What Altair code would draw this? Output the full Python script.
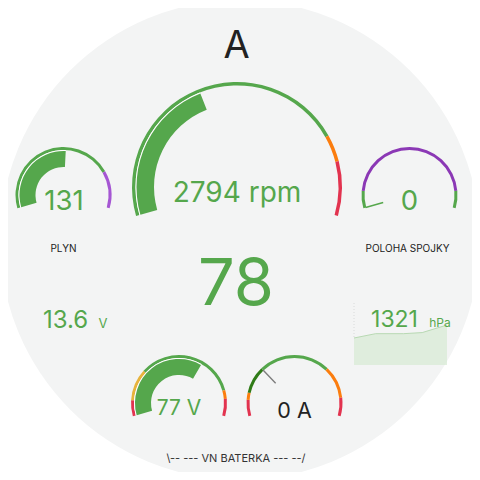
import math
import altair as alt
import pandas as pd

# ------------------------------------------------------------------ data
GREEN = "#55a74c"
ORANGE = "#fb7d0e"
RED = "#e2334f"
PURPLE = "#8b38b5"
LILAC = "#a556d3"
YELLOW = "#e6b33c"
DKGREEN = "#2f7b17"
DARK = "#222222"

GAUGE_NAMES = ["RPM", "PLYN", "POLOHA SPOJKY", "VN_V", "VN_A"]
GAUGE_MIN = [0, 0, 0, 0, -50]
GAUGE_MAX = [7000, 255, 100, 120, 120]
GAUGE_VALUES = [2794, 131, 0, 77, 0]
GAUGE_BAR_COLORS = [GREEN, GREEN, GREEN, GREEN, "#7d7d7d"]

SEGMENT_FROM = {
    "RPM": [0, 5500, 6000],
    "PLYN": [0, 200],
    "POLOHA SPOJKY": [0, 10, 90],
    "VN_V": [0, 11, 33, 102, 108],
    "VN_A": [-50, -34, -27, 0, 70, 102],
}
SEGMENT_COLORS = {
    "RPM": [GREEN, ORANGE, RED],
    "PLYN": [GREEN, LILAC],
    "POLOHA SPOJKY": [GREEN, PURPLE, GREEN],
    "VN_V": [RED, YELLOW, GREEN, ORANGE, RED],
    "VN_A": [RED, ORANGE, DKGREEN, GREEN, ORANGE, RED],
}

PRESSURE_TIMES = [0, 14, 32, 44, 60]
PRESSURE_VALUES = [1309, 1313, 1313, 1314, 1321]

TEXT_LABELS = ["A", "2794 rpm", "78", "131", "PLYN", "0", "POLOHA SPOJKY",
               "13.6", "V", "1321", "hPa", "77 V", "0 A",
               "\\-- --- VN BATERKA --- --/"]

# ---------------------------------------------------------------- layout
SPAN = 106.0  # degrees each side of 12 o'clock
BIG = dict(ring=(101.5, 105.0), gap=(100.5, 101.5), bar=(83.0, 100.5))
SMALL = dict(ring=(45.0, 48.0), gap=(44.0, 45.0), bar=(28.0, 44.0))
GAUGE_LAYOUT = {
    "RPM": dict(cx=237, cy=187, **BIG),
    "PLYN": dict(cx=63.5, cy=195, **SMALL),
    "POLOHA SPOJKY": dict(cx=409.5, cy=195, **SMALL),
    "VN_V": dict(cx=179, cy=403, **SMALL),
    "VN_A": dict(cx=294.5, cy=403, **SMALL),
}
TEXT_LAYOUT = [  # x, baseline y, size, color
    (236.5, 58, 38, DARK), (237, 202, 28, GREEN), (236, 305, 65, GREEN),
    (64, 210, 27.5, GREEN), (63.5, 252, 10, DARK), (409.5, 210, 27.5, GREEN),
    (407.5, 252, 10, DARK), (65.5, 328, 24, GREEN), (103, 328, 13, GREEN),
    (394.5, 327, 23, GREEN), (440, 327, 12, GREEN), (179, 415, 21, GREEN),
    (294.5, 418, 21.5, DARK), (236, 462, 11, "#333333"),
]
SPARK = dict(x0=354, x1=447, y_low=338, y_high=325, y_base=365)

# ---------------------------------------------------------------- tables
def ang(v, lo, hi):
    return math.radians(-SPAN + (v - lo) / (hi - lo) * 2 * SPAN)

rings, gaps, bars, needles = [], [], [], []
for name, lo, hi, val, bcol in zip(GAUGE_NAMES, GAUGE_MIN, GAUGE_MAX,
                                   GAUGE_VALUES, GAUGE_BAR_COLORS):
    L = GAUGE_LAYOUT[name]
    edges = SEGMENT_FROM[name] + [hi]
    for i, col in enumerate(SEGMENT_COLORS[name]):
        rings.append(dict(cx=L["cx"], cy=L["cy"], t0=ang(edges[i], lo, hi),
                          t1=ang(edges[i + 1], lo, hi), r0=L["ring"][0],
                          r1=L["ring"][1], color=col))
    start = min(max(0, lo), hi)
    a, b = sorted([start, val])
    if a == b:
        t = ang(a, lo, hi)
        needles.append(dict(cx=L["cx"], cy=L["cy"], t0=t, t1=t + 0.002,
                            r0=L["bar"][0], r1=L["gap"][1], color=bcol))
    else:
        bars.append(dict(cx=L["cx"], cy=L["cy"], t0=ang(a, lo, hi),
                         t1=ang(b, lo, hi), r0=L["bar"][0], r1=L["bar"][1],
                         color=bcol))
        gaps.append(dict(cx=L["cx"], cy=L["cy"], t0=ang(a, lo, hi),
                         t1=ang(b, lo, hi), r0=L["gap"][0], r1=L["gap"][1],
                         color="#ffffff"))

pmin, pmax = min(PRESSURE_VALUES), max(PRESSURE_VALUES)
tmax = max(PRESSURE_TIMES)
spark = pd.DataFrame(dict(
    x=[SPARK["x0"] + t / tmax * (SPARK["x1"] - SPARK["x0"]) for t in PRESSURE_TIMES],
    y=[SPARK["y_low"] - (v - pmin) / (pmax - pmin) * (SPARK["y_low"] - SPARK["y_high"])
       for v in PRESSURE_VALUES],
    y2=[SPARK["y_base"]] * len(PRESSURE_VALUES),
))
grid = pd.DataFrame(dict(x=[SPARK["x0"]], y=[303], y2=[SPARK["y_low"]]))

texts = pd.DataFrame([dict(text=t, x=x, y=y, size=s, color=c)
                      for t, (x, y, s, c) in zip(TEXT_LABELS, TEXT_LAYOUT)])
bg = pd.DataFrame([dict(cx=240, cy=240, t0=0.0, t1=2 * math.pi, r0=0.0,
                        r1=240.0, color="#f3f4f4")])

# ---------------------------------------------------------------- chart
XS = alt.Scale(domain=[8, 472], nice=False, zero=False)
YS = alt.Scale(domain=[8, 472], nice=False, zero=False, reverse=True)


def X(f):
    return alt.X(f, type="quantitative", scale=XS, axis=None)


def Y(f):
    return alt.Y(f, type="quantitative", scale=YS, axis=None)


def arc_layer(df, **mk):
    return alt.Chart(pd.DataFrame(df)).mark_arc(**mk).encode(
        x=X("cx"), y=Y("cy"),
        theta=alt.Theta("t0:Q", scale=None, stack=None),
        theta2=alt.Theta2("t1:Q"),
        radius=alt.Radius("r1:Q", scale=None),
        radius2=alt.Radius2("r0:Q"),
        color=alt.Color("color:N", scale=None),
    )


layers = [
    arc_layer(bg),
    alt.Chart(spark).mark_area(color="#d6e9d3", line={"color": "#b8d9b3", "strokeWidth": 1}).encode(
        x=X("x"), y=Y("y"), y2="y2"),
    alt.Chart(grid).mark_rule(color="#d8dada", strokeDash=[1, 2]).encode(
        x=X("x"), y=Y("y"), y2="y2"),
    arc_layer(rings),
    arc_layer(gaps),
    arc_layer(bars),
    arc_layer(needles, filled=False, strokeWidth=1.3),
    alt.Chart(texts).mark_text(font="Inter", align="center", baseline="alphabetic").encode(
        x=X("x"), y=Y("y"), text="text:N",
        size=alt.Size("size:Q", scale=None),
        color=alt.Color("color:N", scale=None)),
]

chart = alt.layer(*layers).properties(
    width=464, height=464, padding=0, background="white",
    autosize=alt.AutoSizeParams(type="none"),
).configure_view(strokeWidth=0)

chart.save("out.html", embed_options={"renderer": "svg", "actions": False})
